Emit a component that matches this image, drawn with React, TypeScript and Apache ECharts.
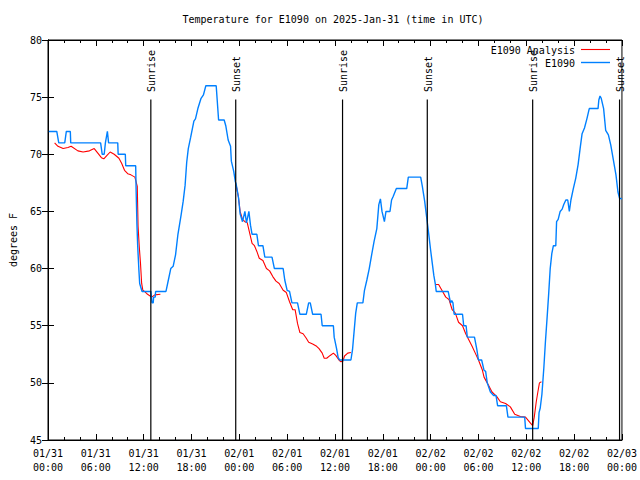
import React, { useEffect, useRef } from "react";
import * as echarts from "echarts";

// ---- data (x = hours since 01/31 00:00 UTC, y = degrees F) ----
const xTickLabels = [
  "01/31\n00:00", "01/31\n06:00", "01/31\n12:00", "01/31\n18:00",
  "02/01\n00:00", "02/01\n06:00", "02/01\n12:00", "02/01\n18:00",
  "02/02\n00:00", "02/02\n06:00", "02/02\n12:00", "02/02\n18:00",
  "02/03\n00:00",
];

const sunNames = ["Sunrise", "Sunset", "Sunrise", "Sunset", "Sunrise", "Sunset"];
const sunHours = [12.9, 23.55, 36.95, 47.58, 60.8, 71.7];

const observed: number[][] = [
  [0.1, 72], [1.1, 72], [1.35, 71], [2.1, 71], [2.3, 72], [2.8, 72], [2.85, 71], [6.6, 71],
  [6.8, 70], [7.05, 70], [7.2, 71], [7.45, 72], [7.6, 71], [8.75, 71], [8.8, 70], [9.7, 70],
  [9.75, 69], [11.0, 69], [11.05, 67], [11.15, 64], [11.25, 62], [11.4, 59.9], [11.5, 58.7],
  [11.8, 58], [12.9, 58], [13.05, 57], [13.2, 57], [13.25, 57.5], [13.45, 57.5], [13.5, 58],
  [14.8, 58], [15.1, 59], [15.4, 60], [15.7, 60.2], [16.0, 61.2], [16.3, 63], [16.7, 64.7],
  [16.96, 65.9], [17.2, 67.3], [17.4, 69.3], [17.6, 70.5], [17.9, 71.5], [18.3, 72.9],
  [18.5, 73.1], [18.8, 74], [19.2, 74.9], [19.5, 75.2], [19.8, 76], [21.1, 76], [21.4, 73],
  [22.1, 73], [22.3, 72.5], [22.6, 71.25], [22.9, 70.7], [23.0, 69.4], [23.3, 68.5],
  [23.5, 67.6], [23.6, 67.4], [23.9, 66.2], [24.1, 64.8], [24.4, 64.1], [24.7, 65], [24.9, 64],
  [25.2, 65], [25.4, 63.8], [25.6, 63], [26.2, 63], [26.4, 62], [26.96, 62], [27.2, 61],
  [28.1, 61], [28.4, 60], [29.5, 60], [29.7, 59], [30.0, 58.1], [30.3, 58], [30.6, 57],
  [31.3, 57], [31.6, 56], [32.4, 56], [32.7, 57], [32.9, 57], [33.2, 56], [34.25, 56],
  [34.4, 55], [35.8, 55], [35.9, 54], [36.2, 53], [36.4, 52.2], [36.6, 52], [38.0, 52],
  [38.2, 52.9], [38.4, 54.5], [38.6, 56.1], [38.8, 57], [39.5, 57], [39.7, 58.1], [40.0, 59],
  [40.3, 60], [40.6, 61.2], [40.9, 62.35], [41.25, 63.5], [41.5, 65.6], [41.7, 66.1],
  [41.9, 65], [42.2, 64.1], [42.4, 65], [42.9, 65], [43.1, 66], [43.3, 66.3], [43.7, 67],
  [45.0, 67], [45.2, 68], [46.75, 68], [46.96, 67.2], [47.25, 65.9], [47.5, 64.5],
  [47.8, 62.8], [48.0, 61.6], [48.2, 60.5], [48.4, 59.4], [48.6, 58.6], [48.7, 58],
  [50.2, 58], [50.35, 57.5], [50.5, 57], [50.65, 57.2], [50.8, 57], [50.95, 56], [52.0, 56],
  [52.15, 55], [52.45, 55], [52.6, 54], [53.5, 54], [53.8, 52.9], [54.0, 52], [54.4, 52],
  [54.7, 51.1], [54.9, 51], [55.1, 50], [55.5, 49.2], [55.9, 48.9], [56.2, 48.9], [56.4, 48],
  [57.5, 48], [57.7, 47], [59.8, 47], [59.9, 46], [61.5, 46], [61.6, 47.4], [61.75, 47.8],
  [61.96, 49], [62.2, 51.3], [62.4, 53.6], [62.6, 55.6], [62.8, 57.7], [63.0, 60],
  [63.2, 61.3], [63.4, 62], [63.7, 62], [63.8, 64.1], [64.0, 64.3], [64.25, 65], [64.5, 65.2],
  [64.7, 65.6], [64.96, 66], [65.2, 66], [65.4, 65], [65.6, 66], [65.9, 67], [66.2, 67.9],
  [66.5, 69.1], [66.75, 70.5], [67.0, 71.8], [67.3, 72.3], [67.6, 73.1], [67.9, 74],
  [69.0, 74], [69.1, 74.75], [69.25, 75.1], [69.4, 74.9], [69.7, 74], [69.96, 72.1],
  [70.3, 71.7], [70.6, 70.8], [70.9, 69.6], [71.25, 68.2], [71.5, 66.7], [71.7, 66.15],
  [72, 66.1],
];

const analysisDay1: number[][] = [
  [0.83, 71.0], [1.25, 70.7], [1.9, 70.5], [2.5, 70.6], [2.9, 70.7], [3.75, 70.3],
  [4.4, 70.2], [5.2, 70.3], [5.8, 70.5], [6.25, 70.1], [6.7, 69.7], [7.0, 69.6], [7.4, 69.9],
  [7.8, 70.2], [8.3, 70.0], [8.9, 69.65], [9.25, 69.2], [9.6, 68.6], [10.0, 68.3],
  [10.4, 68.2], [10.9, 68.0], [11.2, 67.2], [11.25, 65.4], [11.3, 63.7], [11.45, 61.9],
  [11.6, 60.5], [11.75, 58.7], [11.9, 58.1], [12.1, 58.0], [12.4, 57.8], [13.0, 57.5],
  [13.4, 57.7], [14.1, 57.75],
];

const analysisDay2: number[][] = [
  [23.6, 67.3], [23.9, 66.2], [24.1, 65.0], [24.4, 64.3], [24.7, 64.1], [25.0, 64.0],
  [25.3, 63.1], [25.6, 62.2], [25.9, 62.0], [26.2, 61.5], [26.5, 60.9], [26.96, 60.7],
  [27.4, 60.0], [27.8, 59.8], [28.2, 59.3], [28.6, 58.9], [29.0, 58.7], [29.5, 58.1],
  [29.9, 57.9], [30.3, 57.1], [30.7, 56.4], [31.0, 56.4], [31.3, 55.2], [31.6, 54.4],
  [32.0, 54.3], [32.4, 53.9], [32.7, 53.55], [33.2, 53.4], [33.7, 53.2], [34.0, 53.0],
  [34.4, 52.6], [34.65, 52.15], [34.96, 52.15], [35.4, 52.4], [35.8, 52.6], [36.1, 52.4],
  [36.5, 52.0], [36.75, 51.85], [37.0, 51.9], [37.2, 52.35], [37.6, 52.6], [38.0, 52.65],
];

const analysisDay3: number[][] = [
  [48.6, 58.6], [49.0, 58.6], [49.5, 58.0], [49.9, 57.5], [50.3, 57.3], [50.7, 56.4],
  [51.1, 56.1], [51.5, 55.3], [52.0, 55.0], [52.4, 54.3], [52.8, 53.75], [53.2, 53.2],
  [53.6, 52.6], [54.0, 52.0], [54.5, 51.1], [54.7, 50.5], [55.1, 50.0], [55.7, 49.2],
  [56.3, 48.8], [56.75, 48.35], [57.4, 48.2], [58.0, 47.9], [58.55, 47.25], [59.25, 47.05],
  [59.9, 47.0], [60.5, 46.5], [60.8, 46.25], [61.0, 47.0], [61.25, 48.35], [61.45, 49.2],
  [61.65, 50.0], [61.9, 50.1],
];

const yMin = 45;
const yMax = 80;
const sunLineTop = 74.8;
const sunLabelBase = 75.45;

const FONT = '"DejaVu Sans Mono", "Liberation Mono", monospace';
const RED = "#ff0000";
const BLUE = "#0080ff";

export default function App() {
  const ref = useRef<HTMLDivElement>(null);

  useEffect(() => {
    if (!ref.current) return;
    const chart = echarts.init(ref.current, undefined, { renderer: "svg" });

    const xAxisBase = {
      type: "value" as const,
      min: 0,
      max: 72,
      interval: 6,
      axisLine: { show: true, lineStyle: { color: "#000", width: 1 } },
      axisTick: { show: true, inside: true, length: 6, lineStyle: { color: "#000" } },
      minorTick: { show: true, splitNumber: 3, length: 3, lineStyle: { color: "#000" } },
      splitLine: { show: false },
      minorSplitLine: { show: false },
    };
    const yAxisBase = {
      type: "value" as const,
      min: yMin,
      max: yMax,
      interval: 5,
      axisLine: { show: true, lineStyle: { color: "#000", width: 1 } },
      axisTick: { show: true, inside: true, length: 6, lineStyle: { color: "#000" } },
      splitLine: { show: false },
    };

    const redSeries = [analysisDay1, analysisDay2, analysisDay3].map((seg) => ({
      type: "line",
      name: "E1090 Analysis",
      data: seg,
      xAxisIndex: 0,
      yAxisIndex: 0,
      showSymbol: false,
      symbol: "none",
      lineStyle: { color: RED, width: 1.1 },
      itemStyle: { color: RED },
      z: 2,
    }));

    chart.setOption({
      animation: false,
      backgroundColor: "#fff",
      textStyle: { fontFamily: FONT, fontSize: 10, color: "#000" },
      grid: {
        left: 46,
        right: 18,
        top: 40,
        bottom: 40,
        show: true,
        borderColor: "#000",
        borderWidth: 1,
        backgroundColor: "transparent",
      },
      xAxis: [
        {
          ...xAxisBase,
          position: "bottom",
          axisLabel: {
            show: true,
            margin: 6,
            fontFamily: FONT,
            fontSize: 10,
            color: "#000",
            lineHeight: 14,
            formatter: (v: number) => xTickLabels[Math.round(v / 6)] ?? "",
          },
        },
        { ...xAxisBase, position: "top", axisLabel: { show: false } },
      ],
      yAxis: [
        {
          ...yAxisBase,
          position: "left",
          name: "degrees F",
          nameLocation: "middle",
          nameGap: 30,
          nameRotate: 90,
          nameTextStyle: { fontFamily: FONT, fontSize: 10, color: "#000" },
          axisLabel: { show: true, margin: 6, fontFamily: FONT, fontSize: 10, color: "#000" },
        },
        { ...yAxisBase, position: "right", axisLabel: { show: false } },
      ],
      series: [
        ...redSeries,
        {
          type: "line",
          name: "E1090",
          data: observed,
          xAxisIndex: 0,
          yAxisIndex: 0,
          showSymbol: false,
          symbol: "none",
          lineStyle: { color: BLUE, width: 1.4 },
          itemStyle: { color: BLUE },
          z: 3,
        },
        {
          type: "custom",
          name: "sun",
          xAxisIndex: 0,
          yAxisIndex: 0,
          clip: false,
          z: 4,
          data: sunHours.map((h, i) => [h, i]),
          renderItem: (_params: any, api: any) => {
            const h = api.value(0);
            const i = api.value(1);
            const b = api.coord([h, yMin]);
            const t = api.coord([h, sunLineTop]);
            const l = api.coord([h, sunLabelBase]);
            return {
              type: "group",
              children: [
                {
                  type: "line",
                  shape: { x1: b[0], y1: b[1], x2: t[0], y2: t[1] },
                  style: { stroke: "#000", lineWidth: 1.2 },
                },
                {
                  type: "text",
                  x: l[0] + 0.8,
                  y: l[1],
                  rotation: Math.PI / 2,
                  style: {
                    text: sunNames[i],
                    fill: "#000",
                    font: `10px ${FONT}`,
                    align: "left",
                    verticalAlign: "middle",
                  },
                },
              ],
            };
          },
        },
      ],
      graphic: [
        {
          type: "text",
          x: 333,
          y: 19,
          style: {
            text: "Temperature for E1090 on 2025-Jan-31 (time in UTC)",
            fill: "#000",
            font: `10px ${FONT}`,
            align: "center",
            verticalAlign: "middle",
          },
        },
        {
          type: "text",
          x: 575,
          y: 50,
          style: { text: "E1090 Analysis", fill: "#000", font: `10px ${FONT}`, align: "right", verticalAlign: "middle" },
        },
        {
          type: "line",
          shape: { x1: 581, y1: 49.5, x2: 610, y2: 49.5 },
          style: { stroke: RED, lineWidth: 1.1 },
        },
        {
          type: "text",
          x: 575,
          y: 63,
          style: { text: "E1090", fill: "#000", font: `10px ${FONT}`, align: "right", verticalAlign: "middle" },
        },
        {
          type: "line",
          shape: { x1: 581, y1: 62.5, x2: 610, y2: 62.5 },
          style: { stroke: BLUE, lineWidth: 1.4 },
        },
      ],
    });

    return () => chart.dispose();
  }, []);

  return (
    <div
      ref={ref}
      style={{ position: "absolute", left: 0, top: 0, width: 640, height: 480, background: "#fff" }}
    />
  );
}
